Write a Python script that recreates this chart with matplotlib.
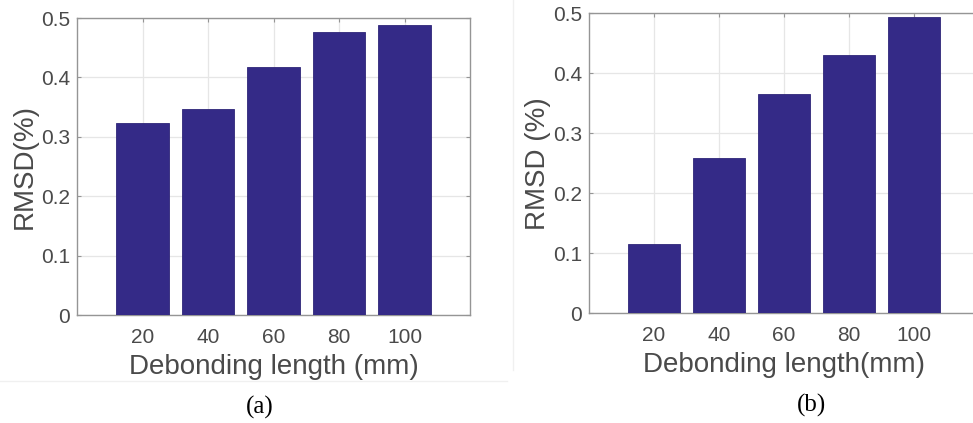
import matplotlib
matplotlib.use("Agg")
import matplotlib.pyplot as plt
from matplotlib.lines import Line2D

lengths = [20, 40, 60, 80, 100]
rmsd_a = [0.323, 0.346, 0.418, 0.477, 0.488]
rmsd_b = [0.115, 0.259, 0.365, 0.430, 0.493]
yticks = [0, 0.1, 0.2, 0.3, 0.4, 0.5]
ytick_labels = ["0", "0.1", "0.2", "0.3", "0.4", "0.5"]

bar_color = "#342a87"
text_color = "#4a4a4a"
spine_color = "#959595"
grid_color = "#e6e6e6"

plt.rcParams["font.family"] = ["Liberation Sans", "DejaVu Sans"]

fig = plt.figure(figsize=(9.73, 4.23), dpi=100)
fig.patch.set_facecolor("white")

def style(ax, xlabel, ylabel, xl_y, yl_x):
    ax.set_xlim(0, 120)
    ax.set_ylim(0, 0.5)
    ax.set_xticks(lengths)
    ax.set_xticklabels([str(v) for v in lengths])
    ax.set_yticks(yticks)
    ax.set_yticklabels(ytick_labels)
    ax.grid(True, color=grid_color, linewidth=0.9)
    ax.set_axisbelow(True)
    for s in ax.spines.values():
        s.set_color(spine_color)
        s.set_linewidth(1.0)
    ax.tick_params(direction="in", length=3, color=spine_color,
                   labelcolor=text_color, labelsize=15, top=True, right=True)
    ax.tick_params(axis="x", pad=9)
    ax.tick_params(axis="y", pad=5)
    ax.set_xlabel(xlabel, fontsize=20, color=text_color, va="center")
    ax.set_ylabel(ylabel, fontsize=20, color=text_color, va="center")
    ax.xaxis.set_label_coords(0.5, xl_y)
    ax.yaxis.set_label_coords(yl_x, 0.5)

# faint borders of the two sub-images
faint = "#f0f0f0"
fig.add_artist(Line2D([0, 507 / 973], [1 - 381 / 423, 1 - 381 / 423],
                      transform=fig.transFigure, color=faint, linewidth=1))
fig.add_artist(Line2D([513 / 973, 513 / 973], [1, 1 - 370 / 423],
                      transform=fig.transFigure, color=faint, linewidth=1))

ax1 = fig.add_axes([77 / 973, (423 - 315) / 423, 393 / 973, 297 / 423])
ax1.bar(lengths, rmsd_a, width=16, color=bar_color, edgecolor="#2e2578", linewidth=0.6, zorder=3)
style(ax1, "Debonding length (mm)", "RMSD(%)", -0.175, -0.132)

ax2 = fig.add_axes([589 / 973, (423 - 313.3) / 423, 389.5 / 973, 300 / 423])
ax2.bar(lengths, rmsd_b, width=16, color=bar_color, edgecolor="#2e2578", linewidth=0.6, zorder=3)
style(ax2, "Debonding length(mm)", "RMSD (%)", -0.172, -0.131)

fig.text(260 / 973, 1 - 407 / 423, "(a)", ha="center", va="center",
         fontsize=18, family=["Liberation Serif", "DejaVu Serif"], color="black")
fig.text(812 / 973, 1 - 405 / 423, "(b)", ha="center", va="center",
         fontsize=18, family=["Liberation Serif", "DejaVu Serif"], color="black")

fig.savefig("out.png", dpi=100, facecolor="white")
